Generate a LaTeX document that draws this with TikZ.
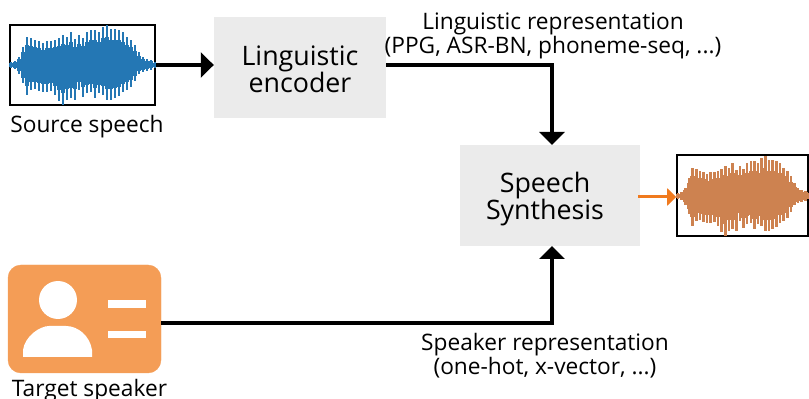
\documentclass[tikz,border=0pt]{standalone}
\usepackage{fontspec}
\setmainfont{Open Sans}
\usetikzlibrary{arrows.meta,calc}
\definecolor{boxgray}{HTML}{EBEBEB}
\definecolor{wblue}{HTML}{2477B4}
\definecolor{worange}{HTML}{CD8250}
\definecolor{card}{HTML}{F49D56}
\definecolor{arrorange}{HTML}{F07A1E}
\newcommand{\wavebars}{0/3/3,4/4/4,8/9/8,12/18/18,16/30/28,20/25/27,24/24/25,28/26/24,32/27/22,36/27/24,40/26/24,44/30/25,48/36/27,52/40/30,56/35/28,60/33/33,64/35/26,68/25/30,72/32/27,76/28/33,80/27/35,84/33/35,88/28/33,92/30/38,96/35/40,100/35/36,104/33/36,108/31/35,112/27/33,116/25/28,120/22/25,124/16/20,128/9/13,132/7/8,136/6/6,140/5/5,144/3/3}
\newcommand{\drawwave}[4]{%
  \foreach \wx/\wu/\wd in \wavebars {
    \draw[#4,line width=2.6] ({#1+#3*\wx},{#2+\wu}) -- ({#1+#3*\wx},{#2-\wd});
    \draw[#4,line width={4*#3+0.6}] ({#1+#3*\wx},{#2+0.7*\wu}) -- ({#1+#3*\wx},{#2-0.7*\wd});
  }}
\tikzset{
  x=1pt,y=1pt,
  procbox/.style={fill=boxgray,minimum width=#1,minimum height=101,inner sep=0pt},
  proctext/.style={align=center,inner sep=0pt,font=\fontsize{26.8}{27.5}\selectfont},
  framebox/.style={draw=black,line width=1.6,inner sep=0pt},
  label/.style={align=center,inner sep=0pt,font=\fontsize{22.7}{24.5}\selectfont},
  conn/.style={line width=3.2,-{Triangle[length=13,width=25]}},
  connor/.style={arrorange,line width=3,-{Triangle[length=9,width=17]}},
}
\begin{document}
\begin{tikzpicture}
\useasboundingbox (0,0) rectangle (809,399);
\begin{scope}[yscale=-1,shift={(0,-399)}]
\node[procbox=172] (enc) at (300,67.5) {};
\node[procbox=180] (syn) at (550,195.5) {};
\node[proctext] (enct) at (300,69.5) {Linguistic\\encoder};
\node[proctext] (synt0) at (545,199) {Speech\\Synthesis};
\node[framebox,minimum width=145,minimum height=80] (src) at (82.5,65) {};
\node[framebox,minimum width=131,minimum height=81] (out) at (742.5,195.5) {};
\drawwave{11}{65}{1}{wblue}
\drawwave{678}{196}{0.91}{worange}
\node[draw=card,fill=card,rounded corners=13,minimum width=153,minimum height=108,inner sep=0pt] (tgt) at (84.5,319) {};
\fill[white] (58,300) circle (19);
\fill[white] (23,357) -- (23,350) .. controls (25,336) and (40,326) .. (49,326) -- (66,326) .. controls (78,326) and (90,336) .. (92,350) -- (92,357) -- cycle;
\fill[white] (108,300) rectangle (146,308);
\fill[white] (108,331) rectangle (146,338);
\node[label] (srcl) at (87,126.5) {Source speech};
\node[label] (tgtl) at (89.5,391) {Target speaker};
\node[label] (lingl) at (553,36) {Linguistic representation\\(PPG, ASR-BN, phoneme-seq, ...)};
\node[label] (spkl) at (545,355.5) {Speaker representation\\(one-hot, x-vector, ...)};
\coordinate (srcout) at (src.east);
\coordinate (encin) at (enc.west |- src.east);
\coordinate (encout) at (enc.east |- src.east);
\coordinate (synt) at (552,145);
\coordinate (synb) at (552,246);
\coordinate (tgtout) at (tgt.east |- 0,323);
\draw[conn] (srcout) -- (encin);
\draw[conn] (encout) -| (synt);
\draw[conn] (tgtout) -| (synb);
\coordinate (outin) at (out.west |- 0,197);
\draw[connor] (638,197) -- (outin);
\end{scope}
\end{tikzpicture}
\end{document}
